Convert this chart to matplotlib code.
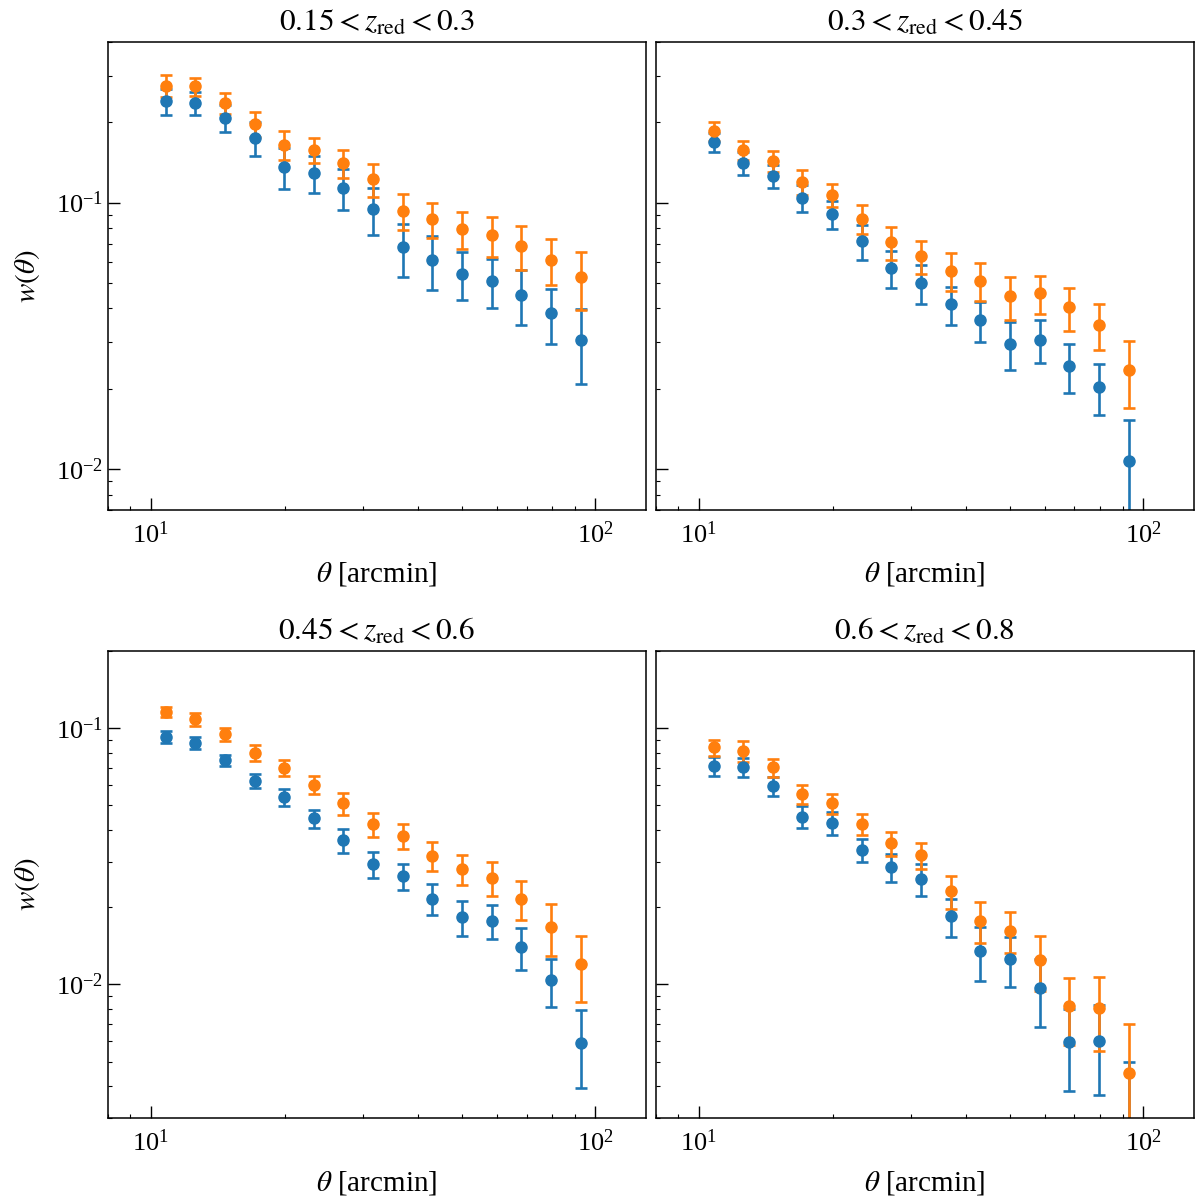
import matplotlib
matplotlib.use("Agg")
import matplotlib.pyplot as plt
from matplotlib.ticker import LogLocator, NullFormatter

plt.rcParams['font.family'] = 'serif'
plt.rcParams['font.serif'] = ['Liberation Serif', 'DejaVu Serif']
plt.rcParams['mathtext.fontset'] = 'stix'
plt.rcParams['font.size'] = 20

# angular bins (arcmin)
theta = [10.80, 12.59, 14.68, 17.11, 19.95, 23.26, 27.12, 31.62,
         36.86, 42.98, 50.12, 58.43, 68.13, 79.43, 92.61]

titles = [r"$0.15 < z_{\rm red} < 0.3$", r"$0.3 < z_{\rm red} < 0.45$",
          r"$0.45 < z_{\rm red} < 0.6$", r"$0.6 < z_{\rm red} < 0.8$"]

# blue sample
w_blue_1 = [0.240, 0.237, 0.208, 0.175, 0.136, 0.129, 0.1135, 0.0947,
            0.0679, 0.061, 0.0541, 0.0508, 0.0451, 0.0384, 0.0304]
e_blue_1 = [0.027, 0.024, 0.024, 0.025, 0.024, 0.020, 0.020, 0.019,
            0.0155, 0.014, 0.011, 0.0105, 0.0105, 0.0089, 0.0095]
w_blue_2 = [0.169, 0.141, 0.1262, 0.1041, 0.0907, 0.0717, 0.0567, 0.0498,
            0.0415, 0.0361, 0.0295, 0.0305, 0.0243, 0.0203, 0.0107]
e_blue_2 = [0.014, 0.0144, 0.0127, 0.0123, 0.011, 0.0107, 0.0089, 0.0083,
            0.0067, 0.0062, 0.0061, 0.0056, 0.005, 0.0044, 0.0045]
w_blue_3 = [0.0925, 0.0874, 0.0749, 0.0621, 0.0538, 0.0444, 0.0364, 0.0294,
            0.0264, 0.0216, 0.0183, 0.0177, 0.014, 0.01036, 0.00593]
e_blue_3 = [0.005, 0.0045, 0.0037, 0.004, 0.004, 0.0035, 0.0038, 0.0033,
            0.003, 0.003, 0.0028, 0.0027, 0.0026, 0.0022, 0.002]
w_blue_4 = [0.071, 0.0703, 0.0595, 0.045, 0.0426, 0.0335, 0.0286, 0.0258,
            0.0184, 0.01355, 0.01254, 0.0097, 0.00595, 0.006, 0.0026]
e_blue_4 = [0.006, 0.006, 0.005, 0.0044, 0.0044, 0.0035, 0.0035, 0.0036,
            0.0031, 0.0032, 0.0028, 0.0029, 0.0021, 0.0023, 0.0024]

# orange sample
w_orng_1 = [0.275, 0.273, 0.237, 0.1975, 0.165, 0.158, 0.141, 0.1223,
            0.0933, 0.0866, 0.0795, 0.0755, 0.0685, 0.061, 0.0524]
e_orng_1 = [0.026, 0.021, 0.022, 0.021, 0.021, 0.017, 0.017, 0.017,
            0.0144, 0.0133, 0.0124, 0.013, 0.0128, 0.0122, 0.013]
w_orng_2 = [0.186, 0.158, 0.1437, 0.1195, 0.1065, 0.0869, 0.0708, 0.063,
            0.0555, 0.0509, 0.0444, 0.0457, 0.0404, 0.0347, 0.0235]
e_orng_2 = [0.015, 0.013, 0.013, 0.0125, 0.0106, 0.011, 0.0098, 0.009,
            0.009, 0.0084, 0.0082, 0.0075, 0.0074, 0.0068, 0.0066]
w_orng_3 = [0.1157, 0.108, 0.0945, 0.080, 0.0701, 0.060, 0.0508, 0.0421,
            0.038, 0.0318, 0.0282, 0.0261, 0.0216, 0.01675, 0.012]
e_orng_3 = [0.0055, 0.006, 0.0056, 0.0055, 0.005, 0.0047, 0.005, 0.0045,
            0.0043, 0.0042, 0.0037, 0.004, 0.0037, 0.0038, 0.0035]
w_orng_4 = [0.0839, 0.0812, 0.0703, 0.0551, 0.0508, 0.0422, 0.0356, 0.0319,
            0.0231, 0.0177, 0.0162, 0.0124, 0.0082, 0.0081, 0.00451]
e_orng_4 = [0.006, 0.0078, 0.0057, 0.0048, 0.0047, 0.004, 0.0038, 0.0038,
            0.0034, 0.0032, 0.003, 0.003, 0.0024, 0.0026, 0.0025]

blue = [(w_blue_1, e_blue_1), (w_blue_2, e_blue_2), (w_blue_3, e_blue_3), (w_blue_4, e_blue_4)]
orng = [(w_orng_1, e_orng_1), (w_orng_2, e_orng_2), (w_orng_3, e_orng_3), (w_orng_4, e_orng_4)]
ylims = [(0.007, 0.4), (0.007, 0.4), (0.003, 0.2), (0.003, 0.2)]

fig, axes = plt.subplots(2, 2, figsize=(12, 11.98), dpi=100, sharey='row')
fig.subplots_adjust(left=0.0898, right=0.995, top=0.9647, bottom=0.0664,
                    wspace=0.018, hspace=0.301)

for i, ax in enumerate(axes.flat):
    wb, eb = blue[i]
    wo, eo = orng[i]
    ax.errorbar(theta, wb, yerr=eb, fmt='o', color='#1f77b4', ms=8,
                elinewidth=1.9, capsize=4, capthick=1.9)
    ax.errorbar(theta, wo, yerr=eo, fmt='o', color='#ff7f0e', ms=8,
                elinewidth=1.9, capsize=4, capthick=1.9)
    ax.set_xscale('log')
    ax.set_yscale('log')
    ax.set_xlim(8, 130)
    ax.set_ylim(*ylims[i])
    ax.set_title(titles[i], fontsize=22.5, pad=8)
    ax.set_xlabel(r"$\theta$ [arcmin]", fontsize=21, labelpad=9)
    if i % 2 == 0:
        ax.set_ylabel(r"$w(\theta)$", fontsize=21, labelpad=10)
    ax.yaxis.set_minor_locator(LogLocator(base=10, subs=range(2, 10)))
    ax.xaxis.set_minor_formatter(NullFormatter())
    ax.yaxis.set_minor_formatter(NullFormatter())
    ax.tick_params(which='both', direction='in', labelsize=19)
    ax.tick_params(which='major', length=8.5, width=1)
    ax.tick_params(which='minor', length=3, width=0.8)
    ax.tick_params(axis='x', pad=8)
    for s in ax.spines.values():
        s.set_linewidth(1.1)

fig.savefig("out.png", dpi=100)
